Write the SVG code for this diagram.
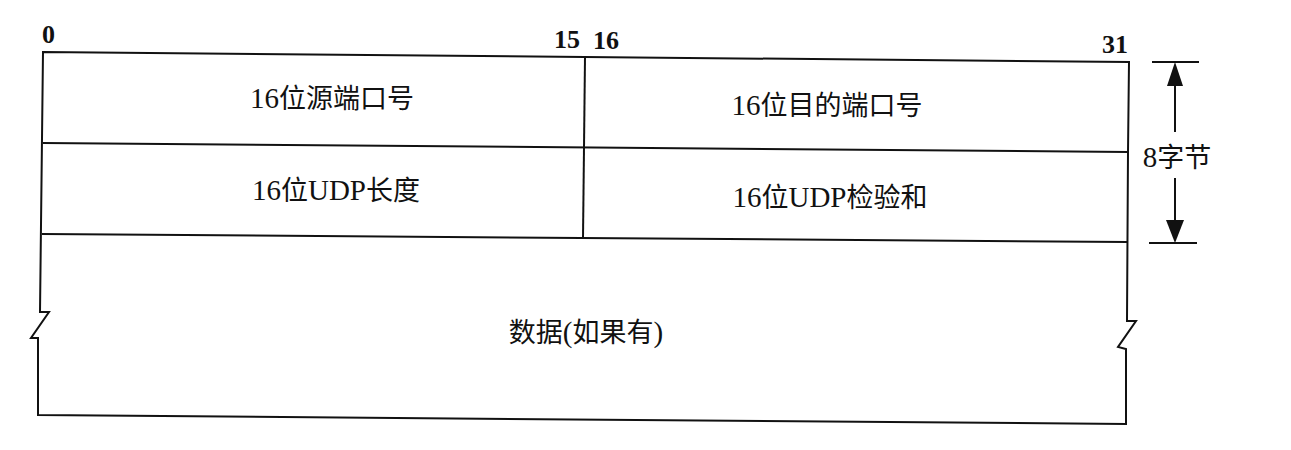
<svg xmlns="http://www.w3.org/2000/svg" width="1291" height="450" viewBox="0 0 1291 450">
  <style>
    .ln { fill: none; stroke: #111; stroke-width: 2; stroke-linejoin: miter; }
    .bit { font-family: "Liberation Serif", serif; font-weight: bold; font-size: 26px; fill: #111; }
    .fld { font-family: "Noto Sans CJK SC", sans-serif; font-size: 27px; fill: #111; text-anchor: middle; }
    .lat { font-family: "Liberation Serif", serif; font-size: 29px; }
    .ah { fill: #111; stroke: none; }
  </style>
  <rect width="1291" height="450" fill="#fff"/>

  <g id="bit-labels">
    <text class="bit" x="42" y="43">0</text>
    <text class="bit" x="554" y="48">15</text>
    <text class="bit" x="593" y="49">16</text>
    <text class="bit" x="1102" y="53">31</text>
  </g>

  <g id="frame">
    <path class="ln" d="M43,52 L1129,62 L1128,152 L1127,321 L1136,321 L1118,347 L1126,349 L1126,424 L38,415 L38,338 L31,338 L49,312 L40,312 L43,52 Z"/>
  </g>

  <g id="connectors">
    <line class="ln" x1="43" y1="143" x2="1128" y2="152"/>
    <line class="ln" x1="42" y1="234" x2="1128" y2="242"/>
    <line class="ln" x1="585" y1="57" x2="583" y2="238"/>
  </g>

  <g id="src-port">
    <text class="fld" x="332" y="108"><tspan class="lat">16</tspan>位源端口号</text>
  </g>
  <g id="dst-port">
    <text class="fld" x="827" y="115"><tspan class="lat">16</tspan>位目的端口号</text>
  </g>
  <g id="udp-length">
    <text class="fld" x="336" y="200"><tspan class="lat">16</tspan>位<tspan class="lat">UDP</tspan>长度</text>
  </g>
  <g id="udp-checksum">
    <text class="fld" x="830" y="207"><tspan class="lat">16</tspan>位<tspan class="lat">UDP</tspan>检验和</text>
  </g>
  <g id="data">
    <text class="fld" x="586" y="342">数据<tspan class="lat">(</tspan>如果有<tspan class="lat">)</tspan></text>
  </g>

  <g id="size-dimension">
    <line class="ln" x1="1152" y1="62" x2="1199" y2="62"/>
    <line class="ln" x1="1175" y1="132" x2="1175" y2="82"/>
    <polygon class="ah" points="1175,62 1167,86 1183,86"/>
    <line class="ln" x1="1175" y1="178" x2="1175" y2="224"/>
    <polygon class="ah" points="1166,220 1184,220 1175,243"/>
    <line class="ln" x1="1149" y1="243" x2="1197" y2="243"/>
    <text class="fld" x="1177" y="167"><tspan class="lat">8</tspan>字节</text>
  </g>
</svg>
